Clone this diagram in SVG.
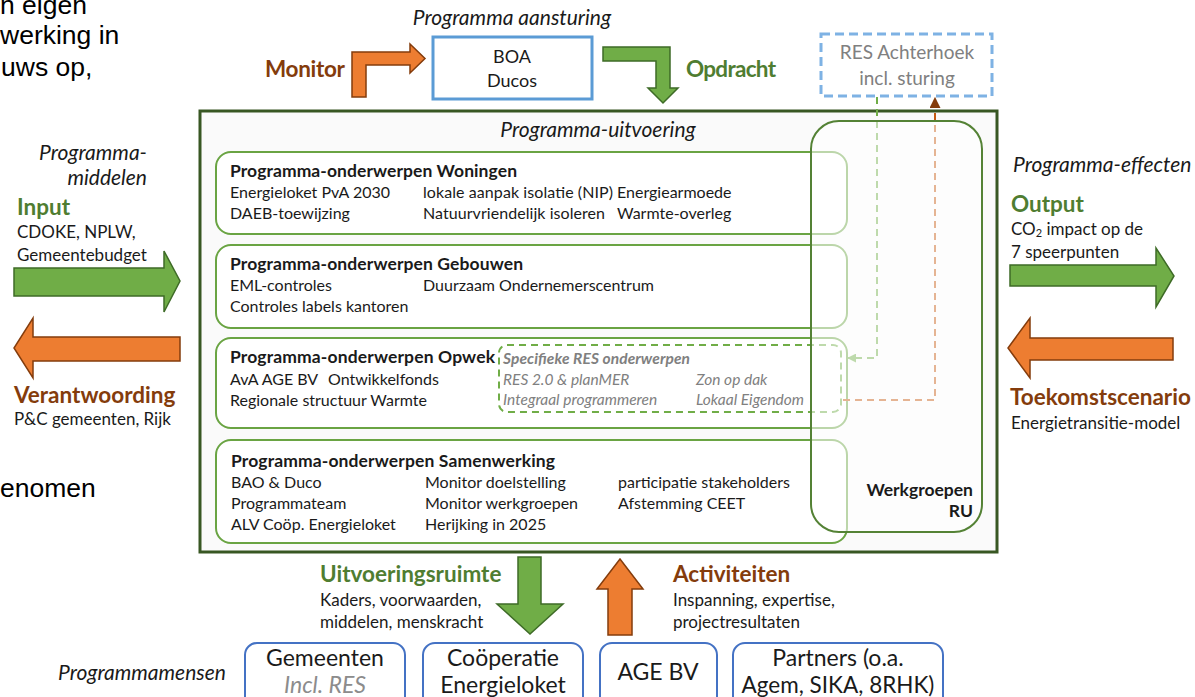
<svg xmlns="http://www.w3.org/2000/svg" width="1195" height="697" viewBox="0 0 1195 697">
<defs>
<style>
text{font-family:Lato,"Liberation Sans",sans-serif;fill:#1a1a1a}
.doc{font-family:"Liberation Sans",Arial,sans-serif;font-size:26.5px;fill:#000}
.it{font-style:italic;font-size:21px}
.b{font-weight:bold}
.body{font-size:16px}
.side{font-size:17px}
.ttl{font-size:17.5px;font-weight:bold}
.gl{fill:#4F7D31;font-weight:bold;font-size:22.5px}
.br{fill:#843C0C;font-weight:bold;font-size:22.5px}
.res{font-size:15.5px;font-style:italic;fill:#808080}
.inner{fill:#fff;stroke:#6AA443;stroke-width:2}
.pbox{fill:#fff;stroke:#4472C4;stroke-width:2}
.big{font-size:23px}
.oarr{fill:#ED7D31;stroke:#843C0C;stroke-width:1.5}
.garr{fill:#70AD47;stroke:#3E6B27;stroke-width:1.5}
</style>
<marker id="ag" viewBox="0 0 10 10" refX="9" refY="5" markerWidth="4.5" markerHeight="4.5" orient="auto"><path d="M0,0L10,5L0,10z" fill="#70AD47"/></marker>
<marker id="ab" viewBox="0 0 10 10" refX="9" refY="5" markerWidth="5.5" markerHeight="5.5" orient="auto"><path d="M0,0L10,5L0,10z" fill="#843C0C"/></marker>
</defs>
<rect width="1195" height="697" fill="#fff"/>

<g id="doc-text">
<text class="doc" x="0" y="14">n eigen</text>
<text class="doc" x="0" y="44">werking in</text>
<text class="doc" x="1" y="76">uws op,</text>
<text class="doc" x="0" y="497">enomen</text>
</g>

<g id="aansturing">
<text class="it" x="512" y="25" text-anchor="middle">Programma aansturing</text>
<rect x="433" y="37" width="159" height="62" fill="#fff" stroke="#5B9BD5" stroke-width="3"/>
<text x="512" y="63" text-anchor="middle" font-size="18">BOA</text>
<text x="512" y="87" text-anchor="middle" font-size="18">Ducos</text>
</g>

<g id="monitor">
<path class="oarr" d="M352,97L352,52L410,52L410,44L425,58.5L410,73L410,65L366,65L366,97Z"/>
<text class="br" x="345" y="77" text-anchor="end" textLength="80">Monitor</text>
</g>

<g id="opdracht">
<path class="garr" d="M603,47L670,47L670,88L678,88L663,103L648,88L656,88L656,61L603,61Z"/>
<text class="gl" x="686" y="77" textLength="90">Opdracht</text>
</g>

<g id="res-achterhoek">
<rect x="821" y="34" width="171" height="62" fill="#fff" stroke="#7EB2E4" stroke-width="3" stroke-dasharray="9,5"/>
<text x="907" y="59" text-anchor="middle" font-size="19" style="fill:#808080">RES Achterhoek</text>
<text x="907" y="85" text-anchor="middle" font-size="19" style="fill:#808080">incl. sturing</text>
</g>

<g id="programma-uitvoering">
<rect x="200" y="111" width="797" height="441" fill="#FAFAFA" stroke="#385723" stroke-width="3"/>
<text class="it" x="598" y="137" text-anchor="middle">Programma-uitvoering</text>
</g>

<g id="woningen">
<rect class="inner" x="216" y="152" width="631" height="82" rx="15"/>
<text class="ttl" x="230" y="177" textLength="287">Programma-onderwerpen Woningen</text>
<text class="body" x="230" y="198">Energieloket PvA 2030</text>
<text class="body" x="423" y="198" textLength="190">lokale aanpak isolatie (NIP)</text>
<text class="body" x="617" y="198">Energiearmoede</text>
<text class="body" x="230" y="219">DAEB-toewijzing</text>
<text class="body" x="423" y="219" textLength="182">Natuurvriendelijk  isoleren</text>
<text class="body" x="617" y="219">Warmte-overleg</text>
</g>

<g id="gebouwen">
<rect class="inner" x="216" y="245" width="631" height="83" rx="15"/>
<text class="ttl" x="230" y="270" textLength="293">Programma-onderwerpen Gebouwen</text>
<text class="body" x="230" y="291">EML-controles</text>
<text class="body" x="423" y="291">Duurzaam Ondernemerscentrum</text>
<text class="body" x="230" y="312">Controles labels kantoren</text>
</g>

<g id="opwek">
<rect class="inner" x="216" y="338" width="631" height="90" rx="15"/>
<text class="ttl" x="230" y="363" textLength="265">Programma-onderwerpen Opwek</text>
<text class="body" x="230" y="385">AvA AGE BV</text>
<text class="body" x="328" y="385">Ontwikkelfonds</text>
<text class="body" x="230" y="406">Regionale structuur Warmte</text>
<rect x="499" y="345" width="342" height="67" rx="8" fill="none" stroke="#70AD47" stroke-width="2" stroke-dasharray="7,5"/>
<text class="res b" x="503" y="364" textLength="187">Specifieke RES onderwerpen</text>
<text class="res" x="503" y="385">RES 2.0 &amp; planMER</text>
<text class="res" x="696" y="385">Zon op dak</text>
<text class="res" x="503" y="405">Integraal programmeren</text>
<text class="res" x="696" y="405">Lokaal Eigendom</text>
</g>

<g id="samenwerking">
<rect class="inner" x="216" y="440" width="631" height="103" rx="15"/>
<text class="ttl" x="231" y="467" textLength="324">Programma-onderwerpen Samenwerking</text>
<text class="body" x="231" y="488">BAO &amp; Duco</text>
<text class="body" x="425" y="488">Monitor doelstelling</text>
<text class="body" x="618" y="488">participatie stakeholders</text>
<text class="body" x="231" y="509">Programmateam</text>
<text class="body" x="425" y="509">Monitor werkgroepen</text>
<text class="body" x="618" y="509">Afstemming CEET</text>
<text class="body" x="231" y="530">ALV Coöp. Energieloket</text>
<text class="body" x="425" y="530">Herijking in 2025</text>
</g>

<g id="connectors">
<path d="M877,97L877,358L848,358" fill="none" stroke="#70AD47" stroke-width="2" stroke-dasharray="7,5" marker-end="url(#ag)"/>
<path d="M843,400L935,400L935,98" fill="none" stroke="#C55A11" stroke-width="2" stroke-dasharray="7,5" marker-end="url(#ab)"/>
</g>

<g id="werkgroepen">
<rect x="811" y="121" width="171" height="411" rx="28" fill="#fff" fill-opacity="0.55" stroke="#548235" stroke-width="2"/>
<text class="b" x="973" y="496" text-anchor="end" font-size="17.5">Werkgroepen</text>
<text class="b" x="973" y="517" text-anchor="end" font-size="17.5">RU</text>
</g>

<g id="input">
<text class="it" x="147" y="160" text-anchor="end">Programma-</text>
<text class="it" x="147" y="185" text-anchor="end">middelen</text>
<text class="gl" x="17" y="215">Input</text>
<text class="side" x="17" y="238">CDOKE, NPLW,</text>
<text class="side" x="17" y="261">Gemeentebudget</text>
<path class="garr" d="M14,268L164,268L164,251L180,281L164,312L164,296L14,296Z"/>
</g>

<g id="verantwoording">
<path class="oarr" d="M180,337L33,337L33,318L14,348L33,378L33,361L180,361Z"/>
<text class="br" x="14" y="403">Verantwoording</text>
<text class="side" x="14" y="425">P&amp;C gemeenten, Rijk</text>
</g>

<g id="output">
<text class="it" x="1013" y="172">Programma-effecten</text>
<text class="gl" x="1011" y="212">Output</text>
<text class="side" x="1011" y="235">CO<tspan font-size="11" dy="2">2</tspan><tspan dy="-2"> impact op de</tspan></text>
<text class="side" x="1011" y="258">7 speerpunten</text>
<path class="garr" d="M1010,265L1156,265L1156,248L1174,276L1156,307L1156,286L1010,286Z"/>
</g>

<g id="toekomstscenario">
<path class="oarr" d="M1173,338L1030,338L1030,318L1008,348L1030,378L1030,360L1173,360Z"/>
<text class="br" x="1010" y="405">Toekomstscenario</text>
<text class="side" x="1011" y="429">Energietransitie-model</text>
</g>

<g id="uitvoeringsruimte">
<path class="garr" d="M518,557L541,557L541,604L563,604L530,634L497,604L518,604Z"/>
<text class="gl" x="320" y="582">Uitvoeringsruimte</text>
<text class="side" x="320" y="606">Kaders, voorwaarden,</text>
<text class="side" x="320" y="628">middelen, menskracht</text>
</g>

<g id="activiteiten">
<path class="oarr" d="M608,635L632,635L632,589L643,589L620,559L597,589L608,589Z"/>
<text class="br" x="673" y="582">Activiteiten</text>
<text class="side" x="673" y="606">Inspanning, expertise,</text>
<text class="side" x="673" y="628">projectresultaten</text>
</g>

<text class="it" x="58" y="680">Programmamensen</text>

<g id="gemeenten">
<rect class="pbox" x="245" y="643" width="160" height="70" rx="12"/>
<text class="big" x="325" y="666" text-anchor="middle">Gemeenten</text>
<text class="big it" x="325" y="693" text-anchor="middle" style="fill:#8c8c8c;font-size:23px">Incl. RES</text>
</g>
<g id="cooperatie">
<rect class="pbox" x="423" y="643" width="160" height="70" rx="12"/>
<text class="big" x="503" y="666" text-anchor="middle">Coöperatie</text>
<text class="big" x="503" y="693" text-anchor="middle">Energieloket</text>
</g>
<g id="age-bv">
<rect class="pbox" x="600" y="643" width="117" height="70" rx="12"/>
<text class="big" x="658" y="680" text-anchor="middle">AGE BV</text>
</g>
<g id="partners">
<rect class="pbox" x="733" y="643" width="210" height="70" rx="12"/>
<text class="big" x="838" y="666" text-anchor="middle">Partners (o.a.</text>
<text class="big" x="838" y="693" text-anchor="middle" font-size="22.5" style="font-size:22.5px">Agem, SIKA, 8RHK)</text>
</g>
</svg>
